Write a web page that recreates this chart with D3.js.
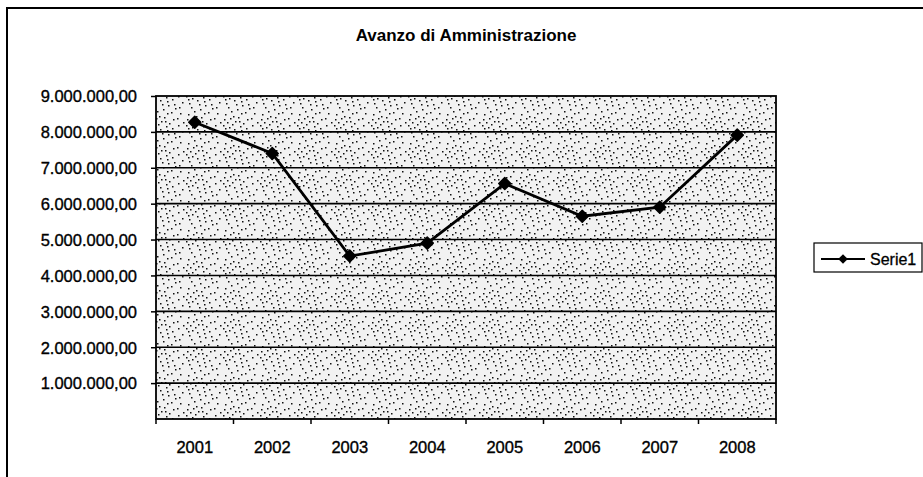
<!DOCTYPE html>
<html>
<head>
<meta charset="utf-8">
<script src="https://cdn.jsdelivr.net/npm/d3@7"></script>
<style>
  body { margin: 0; background: #fff; }
  text { font-family: "Liberation Sans", Arial, sans-serif; fill: #000; }
</style>
</head>
<body>
<div id="chart"></div>
<script>
// dati
var years = ["2001", "2002", "2003", "2004", "2005", "2006", "2007", "2008"];
var avanzo = [8270000, 7400000, 4540000, 4900000, 6560000, 5650000, 5900000, 7910000];
var yTicks = [0, 1000000, 2000000, 3000000, 4000000, 5000000, 6000000, 7000000, 8000000, 9000000];
var seriesName = "Serie1";
var chartTitle = "Avanzo di Amministrazione";

var width = 923, height = 477;
var plot = { left: 156, right: 776, top: 96, bottom: 419 };

var svg = d3.select("#chart").append("svg")
  .attr("width", width)
  .attr("height", height);

// texture puntinata dello sfondo (posizioni fisse, non dati)
var defs = svg.append("defs");
var pat = defs.append("pattern")
  .attr("id", "stipple")
  .attr("patternUnits", "userSpaceOnUse")
  .attr("width", 37).attr("height", 29);
pat.append("rect").attr("width", 37).attr("height", 29).attr("fill", "#f2f2f2");
var dots = [[2,3],[7,11],[13,5],[19,14],[4,16],[16,1],[10,8],[21,7],[1,9],[14,17],[8,2],[18,10],
            [5,6],[12,13],[20,18],[3,12],[11,0],[17,5],[25,3],[30,9],[34,15],[27,21],[32,26],
            [24,12],[29,2],[35,6],[23,25],[9,24],[15,22],[3,27],[26,17],[31,20],[6,20],[19,26]];
pat.selectAll("rect.d").data(dots).enter().append("rect")
  .attr("class", "d")
  .attr("x", function(d) { return d[0]; })
  .attr("y", function(d) { return d[1]; })
  .attr("width", 1.5).attr("height", 1.5)
  .attr("fill", "#111");

// cornice esterna
svg.append("path")
  .attr("d", "M7,477 V8 H923")
  .attr("fill", "none")
  .attr("stroke", "#000")
  .attr("stroke-width", 2);

svg.append("text")
  .attr("x", 466).attr("y", 41)
  .attr("text-anchor", "middle")
  .style("font-size", "17px")
  .style("font-weight", "bold")
  .text(chartTitle);

var x = d3.scaleBand().domain(years).range([plot.left, plot.right]);
var y = d3.scaleLinear().domain([0, 9000000]).range([plot.bottom, plot.top]);

svg.append("rect")
  .attr("x", plot.left).attr("y", plot.top)
  .attr("width", plot.right - plot.left)
  .attr("height", plot.bottom - plot.top)
  .attr("fill", "url(#stipple)");

// griglia
svg.selectAll("line.grid")
  .data(yTicks.filter(function(v) { return v > 0 && v < 9000000; }))
  .enter().append("line")
  .attr("class", "grid")
  .attr("x1", plot.left).attr("x2", plot.right)
  .attr("y1", function(d) { return y(d); })
  .attr("y2", function(d) { return y(d); })
  .attr("stroke", "#000")
  .attr("stroke-width", 1.6);

svg.append("rect")
  .attr("x", plot.left).attr("y", plot.top)
  .attr("width", plot.right - plot.left)
  .attr("height", plot.bottom - plot.top)
  .attr("fill", "none")
  .attr("stroke", "#000")
  .attr("stroke-width", 1.8);

var fmt = function(v) {
  return d3.format(",.2f")(v).replace(/,/g, "#").replace(".", ",").replace(/#/g, ".");
};

var yAxis = d3.axisLeft(y)
  .tickValues(yTicks.slice(1))
  .tickSize(5)
  .tickPadding(14)
  .tickFormat(fmt);

var gy = svg.append("g")
  .attr("transform", "translate(" + plot.left + ",0)")
  .call(yAxis);
gy.select(".domain").remove();
gy.selectAll("line").attr("stroke", "#000").attr("stroke-width", 1.5);
gy.selectAll("text")
  .style("font-size", "16.5px")
  .style("stroke", "#000").style("stroke-width", "0.35px")
  .attr("dy", "0.35em");

// asse x: tacche ai confini delle categorie
var bounds = years.map(function(d) { return x(d); }).concat([plot.right]);
svg.selectAll("line.xt").data(bounds).enter().append("line")
  .attr("class", "xt")
  .attr("x1", function(d) { return d; }).attr("x2", function(d) { return d; })
  .attr("y1", plot.bottom).attr("y2", plot.bottom + 5)
  .attr("stroke", "#000").attr("stroke-width", 1.5);

svg.selectAll("text.xl").data(years).enter().append("text")
  .attr("class", "xl")
  .attr("x", function(d) { return x(d) + x.bandwidth() / 2; })
  .attr("y", 453)
  .attr("text-anchor", "middle")
  .style("font-size", "16.5px")
  .style("stroke", "#000").style("stroke-width", "0.35px")
  .text(function(d) { return d; });

var line = d3.line()
  .x(function(d, i) { return x(years[i]) + x.bandwidth() / 2; })
  .y(function(d) { return y(d); });

svg.append("path")
  .datum(avanzo)
  .attr("d", line)
  .attr("fill", "none")
  .attr("stroke", "#000")
  .attr("stroke-width", 2.8);

var diamond = "M0,-6L6,0L0,6L-6,0Z";
svg.selectAll("path.pt").data(avanzo).enter().append("path")
  .attr("class", "pt")
  .attr("d", diamond)
  .attr("transform", function(d, i) {
    return "translate(" + (x(years[i]) + x.bandwidth() / 2) + "," + y(d) + ")";
  })
  .attr("fill", "#000")
  .attr("stroke", "#000")
  .attr("stroke-width", 1.5)
  .attr("stroke-linejoin", "round");

// legenda
var lg = svg.append("g").attr("transform", "translate(814,243)");
lg.append("rect")
  .attr("width", 108).attr("height", 29)
  .attr("fill", "#fff")
  .attr("stroke", "#000").attr("stroke-width", 1.2);
lg.append("line")
  .attr("x1", 7).attr("x2", 51).attr("y1", 16).attr("y2", 16)
  .attr("stroke", "#000").attr("stroke-width", 2);
lg.append("path")
  .attr("d", diamond)
  .attr("transform", "translate(29,16) scale(0.8)")
  .attr("fill", "#000");
lg.append("text")
  .attr("x", 56).attr("y", 22)
  .style("font-size", "16px")
  .style("stroke", "#000").style("stroke-width", "0.3px")
  .text(seriesName);
</script>
</body>
</html>
